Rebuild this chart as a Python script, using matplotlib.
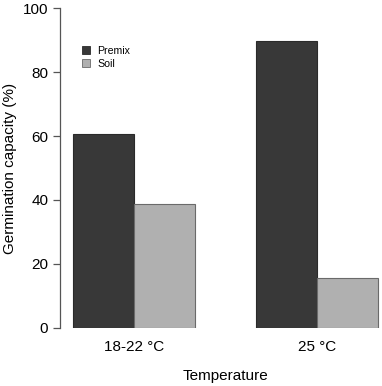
import matplotlib
matplotlib.use("Agg")
import matplotlib.pyplot as plt
from matplotlib.patches import Patch
import numpy as np

plt.rcParams['font.family'] = ['Liberation Sans', 'DejaVu Sans']

groups = ["18-22 °C", "25 °C"]
series = ["Premix", "Soil"]
premix = [60.5, 89.7]
soil = [38.7, 15.7]
colors = ["#383838", "#b0b0b0"]
yticks = [0, 20, 40, 60, 80, 100]

W, H = 382, 386
fig = plt.figure(figsize=(W / 100, H / 100), dpi=100)
ax_left, ax_right = 60, 382
ax_bot, ax_top = 327.7, 8.3
ax = fig.add_axes([ax_left / W, (H - ax_bot) / H, (ax_right - ax_left) / W, (ax_bot - ax_top) / H])

# R-style barplot beside=TRUE: bars at 1-2, 2-3, 4-5, 5-6
group_starts = np.array([1.0, 4.0])
ax.bar(group_starts + 0.5, premix, width=1.0, color=colors[0], edgecolor="#2a2a2a", linewidth=0.8)
ax.bar(group_starts + 1.5, soil, width=1.0, color=colors[1], edgecolor="#6a6a6a", linewidth=0.8)

px_per_unit = 61.0
x0 = 1 - (73 - ax_left) / px_per_unit
x1 = x0 + (ax_right - ax_left) / px_per_unit
ax.set_xlim(x0, x1)
ax.set_ylim(0, 100)

for s in ["top", "right", "bottom"]:
    ax.spines[s].set_visible(False)
ax.spines["left"].set_color("#555555")
ax.spines["left"].set_linewidth(0.9)
ax.set_yticks(yticks)
ax.set_yticklabels([str(v) for v in yticks])
ax.tick_params(axis="y", length=5, width=0.9, color="#555555", pad=3.5, labelsize=11)
ax.set_xticks(group_starts + 1.0)
ax.set_xticklabels(groups)
ax.tick_params(axis="x", length=0, pad=9, labelsize=11)

fig.text(225 / W, 1 - 376 / H, "Temperature", fontsize=11, ha="center", va="center")
fig.text(10 / W, 1 - 168 / H, "Germination capacity (%)", fontsize=11, ha="center", va="center",
         rotation=90)

handles = [Patch(facecolor=colors[0], edgecolor="#2a2a2a", linewidth=0.6, label=series[0]),
           Patch(facecolor=colors[1], edgecolor="#6a6a6a", linewidth=0.6, label=series[1])]
ax.legend(handles=handles, loc="upper left", bbox_to_anchor=(82 / W, (H - 46) / H),
          bbox_transform=fig.transFigure, frameon=False, fontsize=7.6,
          handlelength=0.75, handleheight=0.75, handletextpad=0.7, labelspacing=0.25,
          borderaxespad=0, borderpad=0)

fig.savefig("out.png", dpi=100)
